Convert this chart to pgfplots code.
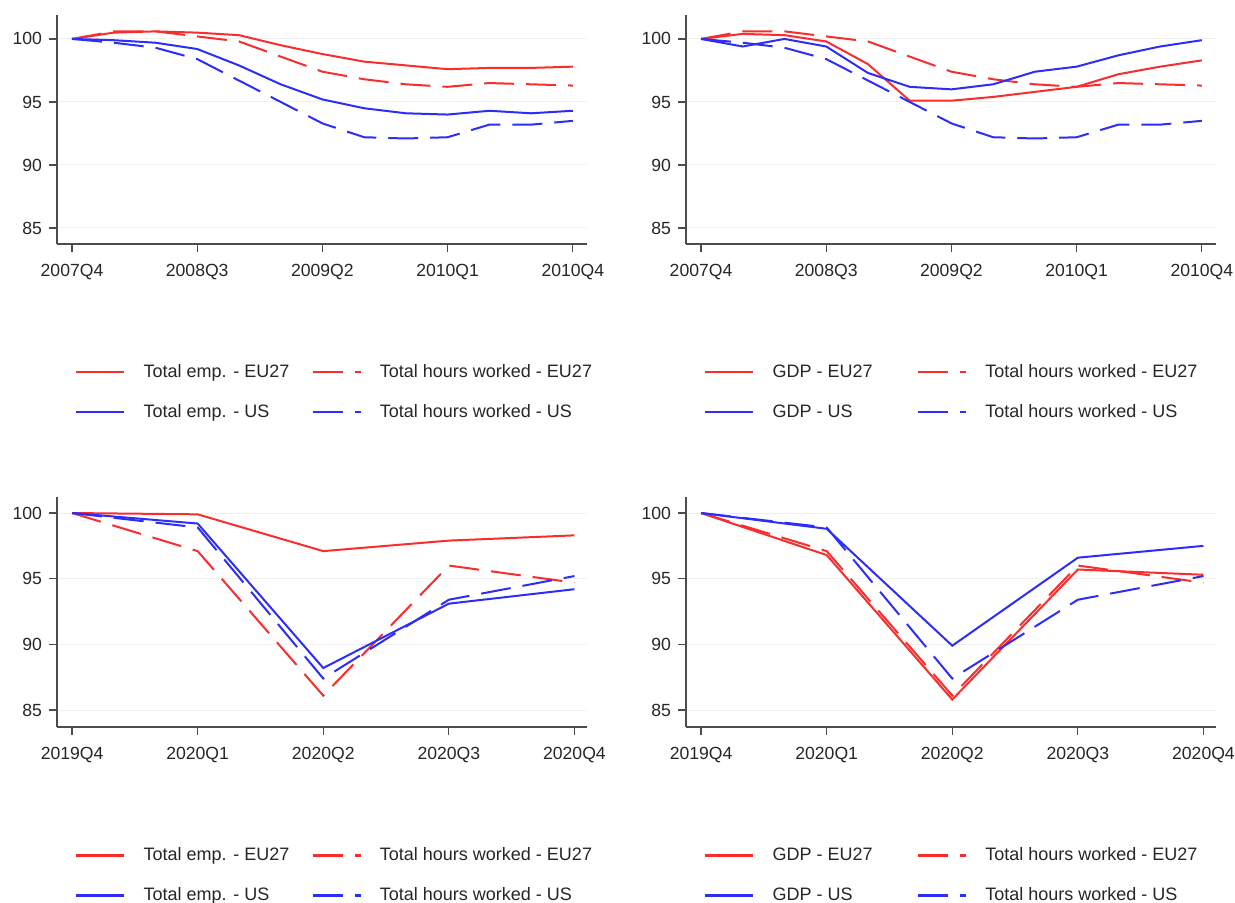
\documentclass[border=0pt]{standalone}
\usepackage{fontspec}
\setmainfont{Liberation Sans}
\usepackage{pgfplots}
\pgfplotsset{compat=1.18}
\definecolor{sred}{RGB}{250,45,45}
\definecolor{sblue}{RGB}{45,45,250}
\pgfplotsset{
  panel/.style={
    scale only axis, width=265pt,
    axis lines*=left, axis line style={black!70, line width=0.6pt, -},
    tick align=outside, tick style={black!70, line width=0.6pt}, major tick length=4pt,
    ytick={85,90,95,100}, ymajorgrids, grid style={black!6, line width=0.5pt},
    font=\fontsize{8.8}{10}\selectfont, tick label style={black!85},
    xticklabel style={yshift=-2.5pt},
    /pgf/number format/assume math mode=true,
    legend columns=2,
    legend style={draw=none, fill=none, inner sep=0pt, outer sep=0pt, anchor=north west,
      nodes={inner sep=0pt, anchor=west, text height=7pt, text depth=2pt},
      /tikz/every odd column/.style={column sep=9pt}, row sep=11pt,
      font=\fontsize{9}{10}\selectfont, text=black!85},
    legend image code/.code={\draw[##1, line width=1.3pt] (0pt,0pt) -- (24pt,0pt);},
    legend cell align=left,
  },
  top/.style={height=114.5pt, xmin=-0.36, xmax=12.34, ymin=83.73, ymax=101.9,
    xtick={0,3,6,9,12}, xticklabels={2007Q4,2008Q3,2009Q2,2010Q1,2010Q4}},
  bot/.style={height=115pt, xmin=-0.12, xmax=4.10, ymin=83.71, ymax=101.22,
    xtick={0,1,2,3,4}, xticklabels={2019Q4,2020Q1,2020Q2,2020Q3,2020Q4}},
  sol/.style={line width=1pt},
  dsh/.style={line width=1pt, dash pattern=on 15pt off 6pt},
}
\begin{document}
\begin{tikzpicture}
\path[use as bounding box] (0,0) rectangle (617.5pt,451.5pt);
% Top-left
\begin{axis}[panel, top, at={(28.5pt,329.5pt)}, anchor=south west,
  legend style={at={(0.034,-0.52)}, /tikz/every even column/.style={column sep=11pt}}]
\addplot[sol, sred] coordinates {(0,100)(1,100.5)(2,100.6)(3,100.5)(4,100.3)(5,99.5)(6,98.8)(7,98.2)(8,97.9)(9,97.6)(10,97.7)(11,97.7)(12,97.8)};
\addlegendentry{Total emp. - EU27}
\addplot[dsh, sred] coordinates {(0,100)(1,100.6)(2,100.6)(3,100.2)(4,99.8)(5,98.6)(6,97.4)(7,96.8)(8,96.4)(9,96.2)(10,96.5)(11,96.4)(12,96.3)};
\addlegendentry{Total hours worked - EU27}
\addplot[sol, sblue] coordinates {(0,100)(1,99.9)(2,99.7)(3,99.2)(4,97.9)(5,96.4)(6,95.2)(7,94.5)(8,94.1)(9,94.0)(10,94.3)(11,94.1)(12,94.3)};
\addlegendentry{Total emp. - US}
\addplot[dsh, sblue] coordinates {(0,100)(1,99.7)(2,99.3)(3,98.4)(4,96.7)(5,95.0)(6,93.3)(7,92.2)(8,92.1)(9,92.2)(10,93.2)(11,93.2)(12,93.5)};
\addlegendentry{Total hours worked - US}
\end{axis}
% Top-right
\begin{axis}[panel, top, at={(343pt,329.5pt)}, anchor=south west,
  legend style={at={(0.034,-0.52)}, /tikz/every even column/.style={column sep=22pt}}]
\addplot[sol, sred] coordinates {(0,100)(1,100.4)(2,100.3)(3,99.8)(4,98.0)(5,95.1)(6,95.1)(7,95.4)(8,95.8)(9,96.2)(10,97.2)(11,97.8)(12,98.3)};
\addlegendentry{GDP - EU27}
\addplot[dsh, sred] coordinates {(0,100)(1,100.6)(2,100.6)(3,100.2)(4,99.8)(5,98.6)(6,97.4)(7,96.8)(8,96.4)(9,96.2)(10,96.5)(11,96.4)(12,96.3)};
\addlegendentry{Total hours worked - EU27}
\addplot[sol, sblue] coordinates {(0,100)(1,99.4)(2,100.0)(3,99.4)(4,97.3)(5,96.2)(6,96.0)(7,96.4)(8,97.4)(9,97.8)(10,98.7)(11,99.4)(12,99.9)};
\addlegendentry{GDP - US}
\addplot[dsh, sblue] coordinates {(0,100)(1,99.7)(2,99.3)(3,98.4)(4,96.7)(5,95.0)(6,93.3)(7,92.2)(8,92.1)(9,92.2)(10,93.2)(11,93.2)(12,93.5)};
\addlegendentry{Total hours worked - US}
\end{axis}
% Bottom-left
\begin{axis}[panel, bot, at={(28.5pt,88pt)}, anchor=south west,
  legend style={at={(0.034,-0.52)}, /tikz/every even column/.style={column sep=11pt}}]
\addplot[sol, sred] coordinates {(0,100)(1,99.9)(2,97.1)(3,97.9)(4,98.3)};
\addlegendentry{Total emp. - EU27}
\addplot[dsh, sred] coordinates {(0,100)(1,97.1)(2,86.1)(3,96.0)(4,94.7)};
\addlegendentry{Total hours worked - EU27}
\addplot[sol, sblue] coordinates {(0,100)(1,99.2)(2,88.2)(3,93.1)(4,94.2)};
\addlegendentry{Total emp. - US}
\addplot[dsh, sblue] coordinates {(0,100)(1,98.9)(2,87.4)(3,93.4)(4,95.2)};
\addlegendentry{Total hours worked - US}
\end{axis}
% Bottom-right
\begin{axis}[panel, bot, at={(343pt,88pt)}, anchor=south west,
  legend style={at={(0.034,-0.52)}, /tikz/every even column/.style={column sep=22pt}}]
\addplot[sol, sred] coordinates {(0,100)(1,96.8)(2,85.8)(3,95.7)(4,95.3)};
\addlegendentry{GDP - EU27}
\addplot[dsh, sred] coordinates {(0,100)(1,97.1)(2,86.1)(3,96.0)(4,94.7)};
\addlegendentry{Total hours worked - EU27}
\addplot[sol, sblue] coordinates {(0,100)(1,98.8)(2,89.9)(3,96.6)(4,97.5)};
\addlegendentry{GDP - US}
\addplot[dsh, sblue] coordinates {(0,100)(1,98.9)(2,87.4)(3,93.4)(4,95.2)};
\addlegendentry{Total hours worked - US}
\end{axis}
\end{tikzpicture}
\end{document}
